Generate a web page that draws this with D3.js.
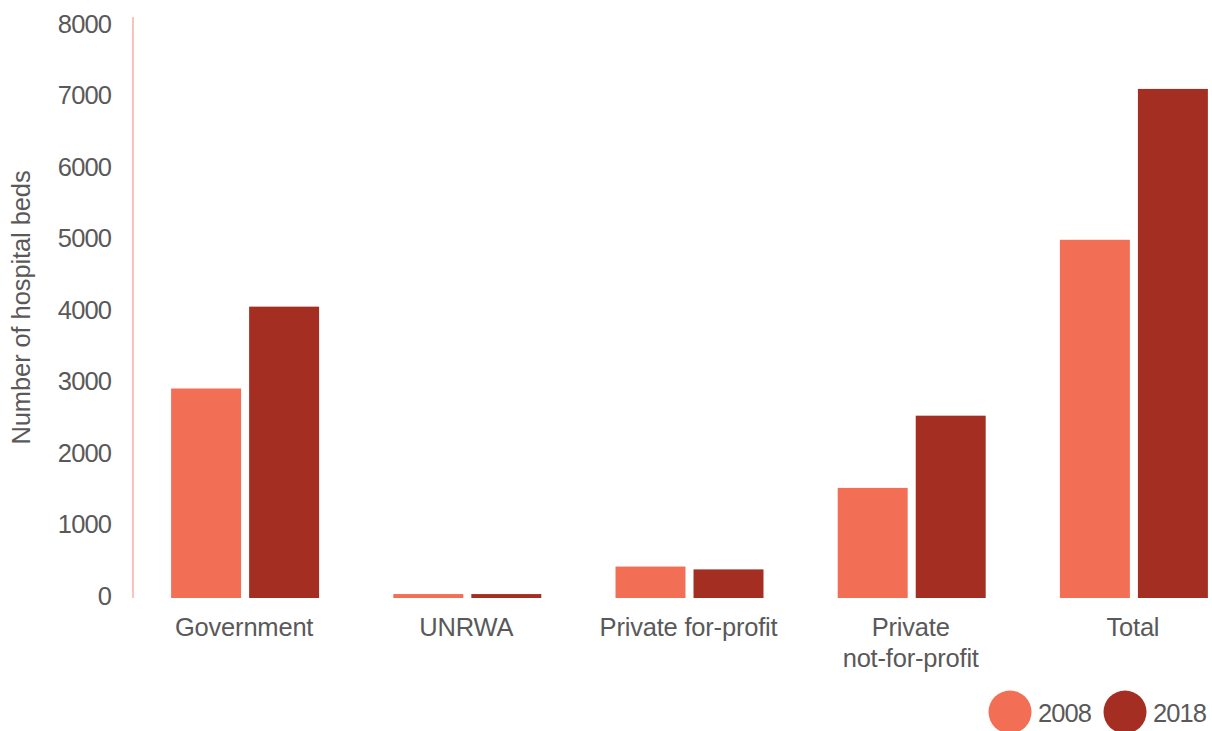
<!DOCTYPE html>
<html>
<head>
<meta charset="utf-8">
<script src="https://cdn.jsdelivr.net/npm/d3@7"></script>
<style>
  body { margin: 0; background: #fff; }
  text { font-family: "Liberation Sans", Arial, sans-serif; fill: #595959; }
</style>
</head>
<body>
<div id="chart"></div>
<script>
// categories and series
var categories = ["Government", "UNRWA", "Private for-profit", "Private\nnot-for-profit", "Total"];
var years = ["2008", "2018"];
var beds2008 = [2930, 55, 440, 1540, 5010];
var beds2018 = [4075, 55, 400, 2550, 7120];
var yTicks = [0, 1000, 2000, 3000, 4000, 5000, 6000, 7000, 8000];
var colors = ["#F26F56", "#A52E22"];

var width = 1212, height = 731;

var svg = d3.select("#chart").append("svg")
    .attr("width", width)
    .attr("height", height);

// x scales
var x0 = d3.scaleBand()
    .domain(d3.range(categories.length))
    .range([134, 1245])
    .paddingInner(0.334)
    .paddingOuter(0.167);

var x1 = d3.scaleBand()
    .domain(years)
    .range([0, x0.bandwidth()])
    .paddingInner(0.103);

// y scale
var y = d3.scaleLinear()
    .domain([0, 8000])
    .range([598, 26]);

// y axis
var yAxis = d3.axisLeft(y)
    .tickValues(yTicks)
    .tickFormat(d3.format("d"))
    .tickSize(0)
    .tickPadding(22);

var gy = svg.append("g")
    .attr("transform", "translate(133,0)")
    .call(yAxis);
gy.select(".domain").remove();
gy.selectAll("text")
    .style("font-size", "25.5px")
    .style("letter-spacing", "-0.9px")
    .attr("dy", "0.35em")
    .attr("y", -2.5);

// vertical axis line
svg.append("line")
    .attr("x1", 133).attr("x2", 133)
    .attr("y1", 17).attr("y2", y(0))
    .attr("stroke", "#F4A596")
    .attr("stroke-width", 1.3);

// bars
var series = [beds2008, beds2018];
var groups = svg.selectAll(".grp")
    .data(categories)
    .enter().append("g")
    .attr("class", "grp")
    .attr("transform", function(d, i) { return "translate(" + x0(i) + ",0)"; });

groups.selectAll("rect")
    .data(function(d, i) {
        return years.map(function(yr, k) { return { year: yr, value: series[k][i], k: k }; });
    })
    .enter().append("rect")
    .attr("x", function(d) { return x1(d.year); })
    .attr("y", function(d) { return y(d.value); })
    .attr("width", x1.bandwidth())
    .attr("height", function(d) { return y(0) - y(d.value); })
    .attr("fill", function(d) { return colors[d.k]; });

// category labels
var labels = svg.selectAll(".xlab")
    .data(categories)
    .enter().append("text")
    .attr("class", "xlab")
    .attr("text-anchor", "middle")
    .style("font-size", "25.5px")
    .style("letter-spacing", "-0.2px")
    .attr("transform", function(d, i) { return "translate(" + (x0(i) + x0.bandwidth() / 2 - 1) + ",636)"; });

labels.selectAll("tspan")
    .data(function(d) { return d.split("\n"); })
    .enter().append("tspan")
    .attr("x", 0)
    .attr("dy", function(d, i) { return i === 0 ? 0 : 31; })
    .text(function(d) { return d; });

// y title
svg.append("text")
    .attr("transform", "translate(30,307.5) rotate(-90)")
    .attr("text-anchor", "middle")
    .style("font-size", "25.5px")
    .style("letter-spacing", "-0.1px")
    .text("Number of hospital beds");

// legend
var legendX = [1010, 1125];
var legend = svg.selectAll(".leg")
    .data(years)
    .enter().append("g")
    .attr("class", "leg")
    .attr("transform", function(d, i) { return "translate(" + legendX[i] + ",712)"; });

legend.append("circle")
    .attr("r", 21.5)
    .attr("fill", function(d, i) { return colors[i]; });

legend.append("text")
    .attr("x", 28)
    .attr("y", 9.5)
    .style("font-size", "25.5px")
    .style("letter-spacing", "-0.9px")
    .text(function(d) { return d; });
</script>
</body>
</html>
